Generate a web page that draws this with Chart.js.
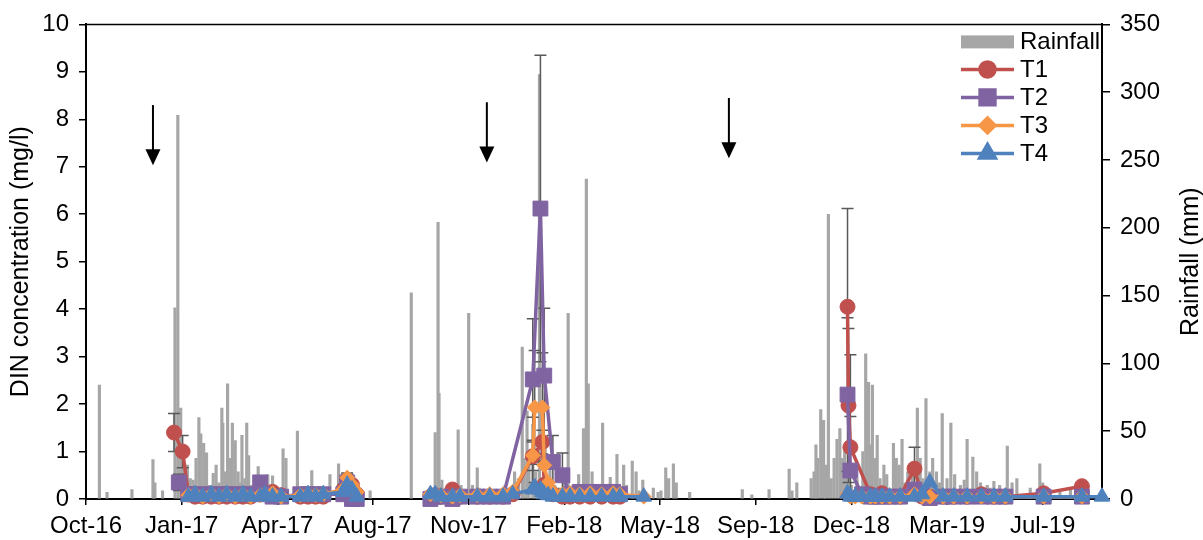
<!DOCTYPE html>
<html>
<head>
<meta charset="utf-8">
<title>DIN concentration and rainfall</title>
<script src="https://cdn.jsdelivr.net/npm/chart.js@4.4.1/dist/chart.umd.min.js"></script>
<style>
  html, body { margin: 0; padding: 0; background: #fff; }
  #wrap { width: 1203px; height: 540px; }
</style>
</head>
<body>
<div id="wrap"><canvas id="chart" width="1203" height="540"></canvas></div>
<script>
// every x value is a day count from 6 Oct 2016
const START = Date.UTC(2016, 9, 6);
const MONTHS = ['Jan', 'Feb', 'Mar', 'Apr', 'May', 'Jun', 'Jul', 'Aug', 'Sep', 'Oct', 'Nov', 'Dec'];

// daily rainfall (mm), only the rainy days
const rainDay = [
    14, 22, 48, 70, 72, 80,
    93, 96, 99, 101, 104, 106, 109, 112, 115, 118, 120, 123, 126, 129, 133, 136, 139, 142, 143, 145, 148, 150,
    153, 156, 159, 161, 163, 166, 168, 170, 173, 176,
    180, 190, 195, 206, 209, 221, 236, 255, 264, 271, 297,
    340, 362, 365, 368, 369, 372, 375, 389, 392, 400, 404, 409, 411, 430, 438, 448, 452, 456, 458, 461, 463, 467, 470,
    474, 477, 480, 485, 490, 495, 500,
    504, 510, 515, 520, 523, 525, 529, 540, 545, 548, 551, 555, 562, 565, 571, 575, 578, 582, 593, 598, 601,
    606, 609, 614, 617, 631, 686, 696, 714,
    735, 738, 743, 758, 761, 763, 765, 768, 771, 773, 776, 779, 782, 785, 788, 790, 793, 796, 800, 806, 812,
    815, 818, 820, 822, 825, 827, 830, 834, 837,
    844, 847, 850, 853, 856, 859, 864, 869, 872, 875, 878, 882, 885, 889, 892, 895, 900, 904, 908, 914, 918,
    921, 927, 931, 935, 942, 945, 949, 955, 963, 968, 973, 987, 997, 1000, 1018, 1029
];
const rainMm = [
    84, 5, 7, 29, 12, 6,
    141, 283, 67, 40, 20, 25, 15, 14, 30, 60, 48, 41, 34, 10, 19, 25, 12, 67, 56, 20, 85, 30,
    56, 43, 20, 12, 47, 15, 56, 32, 10, 8,
    24, 18, 17, 37, 30, 50, 21, 18, 26, 10, 6,
    152, 8, 49, 204, 78, 14, 5, 51, 10, 137, 10, 23, 8, 6, 10, 20, 15, 112, 30, 65, 25, 55, 20,
    313, 15, 40, 25, 10, 8, 12,
    137, 10, 18, 52, 236, 85, 20, 56, 10, 16, 8, 33, 25, 10, 28, 20, 6, 14, 8, 5, 6,
    23, 15, 26, 12, 5, 7, 3, 7,
    22, 6, 12, 15, 20, 40, 30, 66, 58, 25, 210, 15, 30, 44, 52, 30, 40, 20, 10, 15, 35,
    107, 86, 40, 84, 30, 47, 15, 25, 18,
    41, 30, 25, 44, 12, 20, 20, 67, 30, 15, 74, 20, 30, 20, 12, 63, 15, 56, 18, 10, 14,
    44, 31, 20, 12, 10, 8, 13, 10, 39, 12, 15, 8, 26, 12, 5, 7
];

// sampling days, three campaigns
const sampleDays = [
    92, 97, 101, 107, 114, 122, 131, 139, 147, 156, 164, 172, 182, 187, 195, 204, 224, 232, 240, 248, 269, 273, 278, 283,
    360, 365, 371, 383, 391, 409, 422, 436, 446, 467, 469, 475, 477, 479, 483, 488, 498, 506, 516, 527, 539, 551, 558, 583,
    796, 797, 799, 804, 811, 820, 825, 832, 840, 851, 866, 874, 882, 896, 907, 921, 936, 949, 961, 1001, 1041, 1062
];

// DIN (mg/l)
const t1 = [
    1.4, null, 1.0, 0.1, 0.05, 0.05, 0.05, 0.05, 0.05, 0.05, 0.05, 0.05, 0.1, 0.12, 0.15, 0.08, 0.05, 0.05, 0.05, 0.05, 0.2, 0.4, 0.3, 0.1,
    0.05, 0.08, 0.05, 0.2, 0.05, 0.05, 0.05, 0.05, 0.1, 0.9, null, null, 1.2, 0.3, null, 0.1, 0.05, 0.05, 0.05, 0.05, 0.05, 0.05, 0.05, null,
    4.05, 1.97, 1.09, null, null, 0.1, null, 0.12, 0.05, 0.05, 0.64, 0.05, 0.05, 0.05, 0.05, 0.05, 0.1, 0.05, 0.05, 0.12, 0.27, null
];
const t2 = [
    null, 0.35, null, 0.1, 0.1, 0.1, 0.1, 0.1, 0.1, 0.1, 0.1, 0.1, 0.35, 0.1, 0.05, 0.05, 0.1, 0.1, 0.1, 0.1, 0.1, 0.35, 0.0, 0.0,
    0.0, 0.05, 0.05, 0.0, 0.05, 0.05, 0.05, 0.05, null, 2.52, null, 6.12, null, 2.6, null, 0.78, 0.5, 0.1, 0.15, 0.15, 0.15, 0.15, 0.1, null,
    2.2, null, 0.6, null, 0.1, 0.05, 0.05, 0.05, 0.05, 0.05, 0.2, 0.1, 0.02, 0.05, 0.05, 0.05, 0.05, 0.05, 0.05, 0.05, 0.05, null
];
const t3 = [
    null, null, null, 0.08, 0.1, 0.05, 0.1, 0.05, 0.1, 0.05, 0.1, 0.05, 0.08, 0.1, 0.12, 0.05, 0.08, 0.1, 0.08, 0.1, 0.2, 0.45, 0.3, 0.15,
    0.1, 0.1, 0.08, 0.05, 0.08, 0.08, 0.1, 0.1, 0.15, 0.92, 1.93, null, 1.93, 0.71, 0.34, 0.15, 0.1, 0.12, 0.1, 0.12, 0.1, 0.12, 0.1, 0.05,
    0.1, null, 0.05, 0.05, 0.05, 0.05, 0.05, 0.05, 0.05, 0.05, 0.1, 0.05, 0.05, 0.05, 0.05, 0.05, 0.05, 0.05, 0.05, 0.05, 0.05, null
];
const t4 = [
    null, null, null, 0.05, 0.1, 0.05, 0.1, 0.05, 0.1, 0.05, 0.1, 0.05, 0.05, 0.1, 0.05, 0.05, 0.05, 0.1, 0.05, 0.1, 0.15, 0.3, 0.2, 0.05,
    0.1, 0.1, 0.05, 0.05, 0.05, 0.05, 0.05, 0.05, 0.1, 0.2, 0.25, 0.2, 0.15, 0.1, 0.08, 0.05, 0.05, 0.05, 0.05, 0.05, 0.05, 0.05, 0.05, 0.05,
    0.12, null, 0.05, 0.05, 0.05, 0.05, 0.05, 0.05, 0.05, 0.05, 0.05, 0.1, 0.35, 0.05, 0.05, 0.05, 0.05, 0.05, 0.05, 0.05, 0.05, 0.05
];

// standard deviations (0 = none drawn)
const t1Err = [
    0.4, 0, 0.34, 0, 0, 0, 0, 0, 0, 0, 0, 0, 0, 0, 0, 0, 0, 0, 0, 0, 0, 0.12, 0, 0,
    0, 0, 0, 0, 0, 0, 0, 0, 0, 0.3, 0, 0, 0.25, 0.5, 0, 0, 0, 0, 0, 0, 0, 0, 0, 0,
    2.07, 1.62, 1.95, 0, 0, 0, 0, 0, 0, 0, 0.45, 0, 0, 0, 0, 0, 0, 0, 0, 0, 0, 0
];
const t2Err = [
    0, 0.17, 0, 0, 0, 0, 0, 0, 0, 0, 0, 0, 0.05, 0, 0, 0, 0, 0, 0, 0, 0, 0.1, 0, 0,
    0, 0, 0, 0, 0, 0, 0, 0, 0, 1.28, 0, 3.23, 0, 1.42, 0, 0.56, 0.47, 0, 0, 0, 0, 0, 0, 0,
    1.62, 0, 1.14, 0, 0, 0, 0, 0, 0, 0, 0, 0, 0, 0, 0, 0, 0, 0, 0, 0, 0, 0
];
const t3Err = [
    0, 0, 0, 0, 0, 0, 0, 0, 0, 0, 0, 0, 0, 0, 0, 0, 0, 0, 0, 0, 0, 0.1, 0, 0,
    0, 0, 0, 0, 0, 0, 0, 0, 0, 0.8, 1.2, 0, 1.15, 0.5, 0, 0, 0, 0, 0, 0, 0, 0, 0, 0,
    0, 0, 0, 0, 0, 0, 0, 0, 0, 0, 0, 0, 0, 0, 0, 0, 0, 0, 0, 0, 0, 0
];
const t4Err = [
    0, 0, 0, 0, 0, 0, 0, 0, 0, 0, 0, 0, 0, 0, 0, 0, 0, 0, 0, 0, 0, 0, 0, 0,
    0, 0, 0, 0, 0, 0, 0, 0, 0, 0, 0.1, 0, 0, 0, 0, 0, 0, 0, 0, 0, 0, 0, 0, 0,
    0, 0, 0, 0, 0, 0, 0, 0, 0, 0, 0, 0, 0, 0, 0, 0, 0, 0, 0, 0, 0, 0
];

// the three downward arrows (day, top of arrow in mg/l)
const arrowDays = [70, 419, 672];
const arrowTop = [8.3, 8.36, 8.45];

const FONT = '"Liberation Sans", Arial, Helvetica, sans-serif';
const RAIN_COLOR = '#A6A6A6';

const series = [
    { label: 'T1', vals: t1, errs: t1Err, color: '#C0504D', style: 'circle', radius: 7.5 },
    { label: 'T2', vals: t2, errs: t2Err, color: '#8064A2', style: 'rect', radius: 10.5 },
    { label: 'T3', vals: t3, errs: t3Err, color: '#F79646', style: 'rectRot', radius: 7.5 },
    { label: 'T4', vals: t4, errs: t4Err, color: '#4F81BD', style: 'triangle', radius: 9 }
];

function dateLabel(v) {
    const d = new Date(START + v * 86400000);
    return MONTHS[d.getUTCMonth()] + '-' + String(d.getUTCFullYear()).slice(2);
}

// points of one series; a null breaks the line between campaigns
function seriesPoints(vals, errs) {
    const pts = [];
    sampleDays.forEach((d, i) => {
        if (i > 0 && d - sampleDays[i - 1] > 60) pts.push({ x: d - 1, y: null });
        if (vals[i] !== null) pts.push({ x: d, y: vals[i], err: errs[i] });
    });
    return pts;
}

const errorBars = {
    id: 'errorBars',
    afterDatasetDraw(chart, args) {
        if (args.index !== 0) return; // right after the rainfall bars
        const ctx = chart.ctx;
        const ys = chart.scales.y;
        ctx.save();
        ctx.strokeStyle = '#595959';
        ctx.lineWidth = 1.5;
        series.forEach((s, k) => {
            const meta = chart.getDatasetMeta(k + 1);
            const data = chart.data.datasets[k + 1].data;
            meta.data.forEach((el, i) => {
                const p = data[i];
                if (!p || p.y === null || !p.err) return;
                const top = ys.getPixelForValue(p.y + p.err);
                const bot = ys.getPixelForValue(Math.max(0, p.y - p.err));
                ctx.beginPath();
                ctx.moveTo(el.x, top); ctx.lineTo(el.x, bot);
                ctx.moveTo(el.x - 6, top); ctx.lineTo(el.x + 6, top);
                if (p.y - p.err > 0) { ctx.moveTo(el.x - 6, bot); ctx.lineTo(el.x + 6, bot); }
                ctx.stroke();
            });
        });
        ctx.restore();
    }
};

const frame = {
    id: 'frame',
    beforeDatasetsDraw(chart) {
        const ctx = chart.ctx, a = chart.chartArea;
        ctx.save();
        ctx.strokeStyle = '#000';
        ctx.lineWidth = 1.5;
        ctx.beginPath();
        ctx.moveTo(a.left, a.top); ctx.lineTo(a.right, a.top);
        ctx.stroke();
        ctx.restore();
    },
    afterDraw(chart) {
        const ctx = chart.ctx, a = chart.chartArea;
        const xs = chart.scales.x, ys = chart.scales.y;
        ctx.save();

        // arrows
        ctx.strokeStyle = '#000';
        ctx.fillStyle = '#000';
        ctx.lineWidth = 2;
        arrowDays.forEach((d, i) => {
            const x = xs.getPixelForValue(d);
            const y0 = ys.getPixelForValue(arrowTop[i]);
            const y1 = ys.getPixelForValue(arrowTop[i] - 1.27);
            ctx.beginPath();
            ctx.moveTo(x, y0); ctx.lineTo(x, y1 - 12);
            ctx.stroke();
            ctx.beginPath();
            ctx.moveTo(x - 7.5, y1 - 16); ctx.lineTo(x + 7.5, y1 - 16); ctx.lineTo(x, y1);
            ctx.closePath();
            ctx.fill();
        });

        // right axis title, read bottom to top
        ctx.translate(chart.width - 12, (a.top + a.bottom) / 2);
        ctx.rotate(-Math.PI / 2);
        ctx.font = '25px ' + FONT;
        ctx.textAlign = 'center';
        ctx.textBaseline = 'middle';
        ctx.fillText('Rainfall (mm)', 0, 0);
        ctx.restore();

        // legend
        ctx.save();
        const x0 = a.right - 141, tx = a.right - 82;
        ctx.font = '24px ' + FONT;
        ctx.textBaseline = 'middle';
        ctx.textAlign = 'left';
        ctx.fillStyle = RAIN_COLOR;
        ctx.fillRect(x0, a.top + 11, 53, 13);
        ctx.fillStyle = '#000';
        ctx.fillText('Rainfall', tx, a.top + 18);
        series.forEach((s, i) => {
            const y = a.top + 45 + i * 28;
            ctx.strokeStyle = s.color;
            ctx.lineWidth = 3.5;
            ctx.beginPath();
            ctx.moveTo(x0, y); ctx.lineTo(x0 + 53, y);
            ctx.stroke();
            ctx.fillStyle = s.color;
            Chart.helpers.drawPoint(ctx, { pointStyle: s.style, radius: s.radius, borderWidth: 1, rotation: 0 }, x0 + 26.5, y);
            ctx.fillStyle = '#000';
            ctx.fillText(s.label, tx, y + 1);
        });
        ctx.restore();
    }
};

const datasets = [{
    type: 'bar',
    label: 'Rainfall',
    data: rainDay.map((d, i) => ({ x: d, y: rainMm[i] })),
    yAxisID: 'y2',
    backgroundColor: RAIN_COLOR,
    borderWidth: 0,
    barThickness: 2.5,
    order: 10
}];
series.forEach((s, k) => {
    datasets.push({
        type: 'line',
        label: s.label,
        data: seriesPoints(s.vals, s.errs),
        yAxisID: 'y',
        borderColor: s.color,
        backgroundColor: s.color,
        borderWidth: 3.5,
        pointStyle: s.style,
        pointRadius: s.radius,
        pointBorderWidth: 1,
        tension: 0,
        spanGaps: false,
        clip: false,
        order: 4 - k
    });
});

Chart.defaults.font.family = FONT;
Chart.defaults.color = '#000';

new Chart(document.getElementById('chart'), {
    type: 'line',
    data: { datasets },
    options: {
        responsive: false,
        animation: false,
        layout: { padding: { top: 17, left: 0, right: 0, bottom: 0 } },
        plugins: { legend: { display: false }, tooltip: { enabled: false } },
        scales: {
            x: {
                type: 'linear', min: 0, max: 1062, offset: false,
                grid: { drawOnChartArea: false, offset: false, color: '#000', lineWidth: 1.5, tickLength: 6 },
                border: { color: '#000', width: 2 },
                ticks: {
                    stepSize: 100, includeBounds: false, autoSkip: false, maxRotation: 0, minRotation: 0,
                    padding: 7, color: '#000', font: { size: 24 },
                    callback: v => dateLabel(v)
                },
                afterFit: s => { s.height = 41; }
            },
            y: {
                position: 'left', min: 0, max: 10,
                grid: { drawOnChartArea: false, color: '#000', lineWidth: 1.5, tickLength: 7 },
                border: { color: '#000', width: 2 },
                ticks: { stepSize: 1, padding: 10, color: '#000', font: { size: 24 } },
                title: {
                    display: true, text: 'DIN concentration (mg/l)', color: '#000',
                    font: { size: 25, lineHeight: 1 }, padding: { top: 9, bottom: 0 }
                },
                afterFit: s => { s.width = 86; }
            },
            y2: {
                position: 'right', min: 0, max: 350,
                grid: { drawOnChartArea: false, color: '#000', lineWidth: 1.5, tickLength: 8 },
                border: { color: '#000', width: 2 },
                ticks: { stepSize: 50, padding: 10, color: '#000', font: { size: 24 } },
                afterFit: s => { s.width = 101; }
            }
        }
    },
    plugins: [errorBars, frame]
});
</script>
</body>
</html>
